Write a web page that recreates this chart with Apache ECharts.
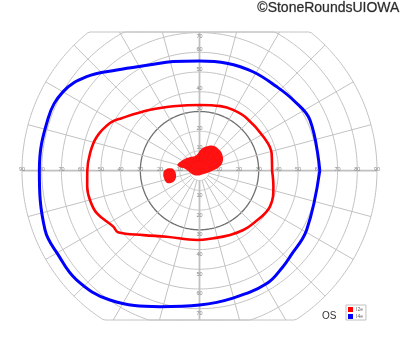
<!DOCTYPE html>
<html>
<head>
<meta charset="utf-8">
<script src="https://cdn.jsdelivr.net/npm/echarts@6/dist/echarts.min.js"></script>
<style>
  html, body { margin: 0; padding: 0; background: #fff; }
  #chart { width: 400px; height: 352px; }
</style>
</head>
<body>
<div id="chart"></div>
<script>
// field grid (degrees of eccentricity)
const rings = [5, 10, 20, 30, 40, 50, 60, 70, 80, 90]
const spokeAngles = [0, 15, 30, 45, 60, 75, 90, 105, 120, 135, 150, 165, 180, 195, 210, 225, 240, 255, 270, 285, 300, 315, 330, 345]
const xTickLabels = [10, 20, 30, 40, 50, 60, 70, 80, 90]
const yTickLabels = [10, 20, 30, 40, 50, 60, 70]
const fieldTop = 70.3
const fieldBottom = -75.73

// isopters: meridian angle (deg) and eccentricity (deg)
const i4eAngles = [0, 24.6, 37, 47.5, 61.6, 75.8, 90, 103.6, 115, 129.4, 140.2, 149.9, 160.9, 180, 201, 210.8, 221.6, 235.3, 253.8, 270, 284.7, 300.8, 311, 316.5, 331]
const i4eEcc = [61, 61.6, 59.5, 57.8, 57.0, 56.2, 55.6, 56.9, 59.2, 66.1, 74.5, 79.9, 81.2, 81.2, 83.9, 83.4, 83.4, 79.8, 71.8, 68.1, 66.8, 66.6, 64.5, 63.3, 62.1]
const i2eAngles = [0, 13.5, 28, 48, 61, 72, 90, 109.5, 129, 146, 152, 162, 171, 180, 188, 195, 202.5, 213, 217, 229, 243.6, 268, 281.5, 295.4, 306.4, 315.6, 333, 348]
const i2eEcc = [36.8, 37.6, 36.7, 35.8, 35.2, 34.4, 33.3, 34.8, 39.7, 47.6, 51.4, 54.9, 56.2, 56.9, 57.5, 57.5, 56.4, 52.1, 51.8, 43.3, 37.4, 35.2, 35.0, 36.1, 37.4, 38.2, 40.1, 38.3]

// scotomas (I2e not seen)
const scotomaAAngles = [164.5, 146, 124.8, 103, 84.3, 72.8, 61.5, 47.5, 34.4, 20.6, 10.9, 358.6, 323.5, 241.6, 198, 173, 169.6]
const scotomaAEcc = [11.6, 9.9, 8.4, 7.9, 11.1, 12.9, 14.3, 14.6, 14.1, 12.5, 10.1, 6.3, 2.8, 2.8, 4.5, 7.4, 10.6]
const scotomaBAngles = [178.9, 175.4, 178.4, 190.5, 200.8, 203.4, 200.2, 192.2, 184]
const scotomaBEcc = [17.5, 15.0, 12.9, 12.1, 13.3, 15.4, 17.7, 18.4, 18.4]

function toXY (angle, ecc) {
  const t = angle * Math.PI / 180
  return [ecc * Math.cos(t), ecc * Math.sin(t)]
}
function clampY (p) {
  return [p[0], Math.min(fieldTop, Math.max(fieldBottom, p[1]))]
}
function loop (angles, ecc) {
  const pts = angles.map((a, i) => toXY(a, ecc[i]))
  pts.push(pts[0])
  return pts
}

const chart = echarts.init(document.getElementById('chart'))

function renderGrid (params, api) {
  const children = []
  rings.forEach(r => {
    const pts = []
    for (let a = 0; a <= 360; a += 1) pts.push(api.coord(clampY(toXY(a, r))))
    children.push({
      type: 'polyline',
      shape: { points: pts },
      style: { stroke: r === 30 ? '#707070' : '#c2c2c2', lineWidth: r === 30 ? 1.3 : 1, fill: null }
    })
  })
  spokeAngles.forEach(a => {
    const s = Math.sin(a * Math.PI / 180)
    let rEnd = 90
    if (s > 1e-6) rEnd = Math.min(90, fieldTop / s)
    if (s < -1e-6) rEnd = Math.min(90, fieldBottom / s)
    const p1 = api.coord(toXY(a, 5))
    const p2 = api.coord(toXY(a, rEnd))
    const isAxis = a % 90 === 0
    children.push({
      type: 'line',
      shape: { x1: p1[0], y1: p1[1], x2: p2[0], y2: p2[1] },
      style: { stroke: isAxis ? '#c0c0c0' : '#c2c2c2', lineWidth: isAxis ? 1.8 : 1 }
    })
  })
  const lab = (txt, p) => ({
    type: 'text', x: p[0], y: p[1],
    style: { text: String(txt), fill: '#8a8a8a', fontSize: 5.5, align: 'center', verticalAlign: 'middle' }
  })
  xTickLabels.forEach(v => {
    children.push(lab(v, api.coord([v, 0.6])))
    children.push(lab(v, api.coord([-v, 0.6])))
  })
  yTickLabels.forEach(v => {
    children.push(lab(v, api.coord([0, v === 70 ? 68.2 : v + 1.5])))
    children.push(lab(v, api.coord([0, -v - 2.5])))
  })
  return { type: 'group', children: children }
}

const scotomas = [loop(scotomaAAngles, scotomaAEcc), loop(scotomaBAngles, scotomaBEcc)]
function renderScotoma (params, api) {
  const pts = scotomas[params.dataIndex].slice(0, -1).map(p => api.coord(p))
  return {
    type: 'polygon',
    shape: { points: pts, smooth: 0.45 },
    style: { fill: 'rgba(255,0,0,0.93)', stroke: null }
  }
}

const option = {
  animation: false,
  title: {
    text: '©StoneRoundsUIOWA',
    right: 0,
    top: 1,
    padding: 0,
    textStyle: { fontSize: 14, fontWeight: 'normal', color: '#2a2a2a', fontFamily: 'Liberation Sans, Arial, sans-serif', textBorderColor: '#aaa', textBorderWidth: 0.6 }
  },
  grid: { left: 12, right: 13, top: 32, bottom: 32 },
  xAxis: { type: 'value', min: -95.07, max: 95.07, show: false },
  yAxis: { type: 'value', min: fieldBottom, max: fieldTop, show: false },
  legend: {
    orient: 'vertical',
    left: 346,
    top: 305,
    padding: [2, 3, 1, 2],
    itemWidth: 5,
    itemHeight: 5,
    itemGap: 2,
    borderColor: '#c0c0c0',
    borderWidth: 1,
    borderRadius: 0,
    textStyle: { fontSize: 5, color: '#666', padding: [0, 0, 0, -2] },
    data: [{ name: 'I2e', icon: 'rect' }, { name: 'I4e', icon: 'rect' }]
  },
  graphic: [{
    type: 'text',
    left: 322,
    top: 311,
    style: { text: 'OS', fontSize: 10, fill: '#333', fontFamily: 'Liberation Sans Narrow, Liberation Sans, sans-serif' }
  }],
  series: [
    {
      type: 'custom',
      silent: true,
      renderItem: renderGrid,
      data: [[0, 0]],
      z: 1
    },
    {
      type: 'custom',
      silent: true,
      renderItem: renderScotoma,
      data: [[0, 0], [0, 0]],
      z: 2
    },
    {
      name: 'I2e',
      type: 'line',
      data: loop(i2eAngles, i2eEcc),
      smooth: 0.4,
      symbol: 'none',
      lineStyle: { color: '#ff0000', width: 2.6 },
      itemStyle: { color: '#ff0000' },
      z: 3
    },
    {
      name: 'I4e',
      type: 'line',
      data: loop(i4eAngles, i4eEcc),
      smooth: 0.4,
      symbol: 'none',
      lineStyle: { color: '#0000ff', width: 3 },
      itemStyle: { color: '#0000ff' },
      z: 3
    }
  ]
}

option && chart.setOption(option)
</script>
</body>
</html>
